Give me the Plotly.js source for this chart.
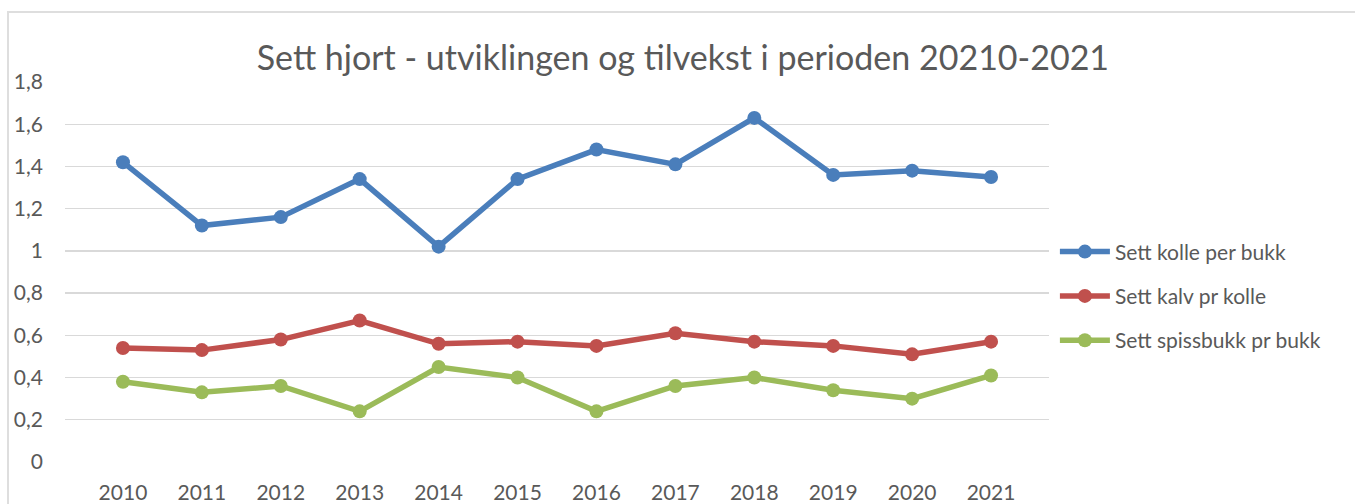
<!DOCTYPE html>
<html>
<head>
<meta charset="utf-8">
<script src="https://cdn.plot.ly/plotly-3.0.1.min.js"></script>
<style>
html,body{margin:0;padding:0;background:#fff;}
#wrap{position:relative;width:1355px;height:504px;}
#chart{position:absolute;left:0;top:0;width:1355px;height:504px;}
#frame{position:absolute;left:7px;top:11px;width:1348px;height:500px;border-left:2px solid #dedede;border-top:2px solid #dedede;pointer-events:none;}
</style>
</head>
<body>
<div id="wrap"><div id="chart"></div><div id="frame"></div></div>
<script>
const years = ['2010','2011','2012','2013','2014','2015','2016','2017','2018','2019','2020','2021'];
const kollePerBukk = [1.42,1.12,1.16,1.34,1.02,1.34,1.48,1.41,1.63,1.36,1.38,1.35];
const kalvPrKolle = [0.54,0.53,0.58,0.67,0.56,0.57,0.55,0.61,0.57,0.55,0.51,0.57];
const spissbukkPrBukk = [0.38,0.33,0.36,0.24,0.45,0.40,0.24,0.36,0.40,0.34,0.30,0.41];
const seriesNames = ['Sett kolle per bukk','Sett kalv pr kolle','Sett spissbukk pr bukk'];
const colors = ['#4a7ebb','#c0504d','#9bbb59'];
const yTicks = [0,0.2,0.4,0.6,0.8,1,1.2,1.4,1.6,1.8];
const yTickText = ['0','0,2','0,4','0,6','0,8','1','1,2','1,4','1,6','1,8'];

const font = 'Lato, "Open Sans", sans-serif';
const data = [kollePerBukk, kalvPrKolle, spissbukkPrBukk].map((v,i)=>({
  x: years, y: v, name: seriesNames[i], type:'scatter', mode:'lines+markers',
  legendgroup:'g'+i,
  line:{color:colors[i], width:5.5},
  marker:{color:colors[i], size:14}
}));

const layout = {
  width:1355, height:504,
  margin:{l:65, r:306, t:82, b:42, pad:0},
  paper_bgcolor:'rgba(0,0,0,0)', plot_bgcolor:'rgba(0,0,0,0)',
  font:{family:font, color:'#595959', size:21},
  title:{text:'Sett hjort - utviklingen og tilvekst i perioden 20210-2021', x:0.504, xanchor:'center', y:0.885, yanchor:'middle', font:{size:34, color:'#595959', family:font}},
  xaxis:{type:'category', showgrid:false, zeroline:false, showline:false, ticks:'', tickfont:{size:21}, ticklabelstandoff:16, fixedrange:true},
  yaxis:{range:[0,1.8], tickvals:yTicks, ticktext:yTickText, showgrid:true, gridcolor:'#d9d9d9', gridwidth:1.3, zeroline:false, showline:false, ticks:'', tickfont:{size:21}, ticklabelstandoff:21, fixedrange:true},
  showlegend:true,
  legend:{x:1.006, xanchor:'left', y:0.437, yanchor:'middle', font:{size:21, color:'#595959'}, tracegroupgap:14, itemwidth:50, bgcolor:'rgba(0,0,0,0)'}
};
Plotly.newPlot('chart', data, layout, {displayModeBar:false, staticPlot:true});
</script>
</body>
</html>
